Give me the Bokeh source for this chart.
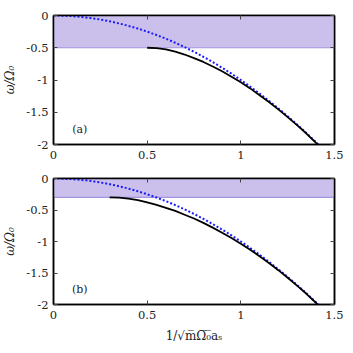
from bokeh.plotting import figure
from bokeh.layouts import column
from bokeh.models import Range1d, LinearAxis, FixedTicker
from bokeh.core.properties import value
from bokeh.embed import file_html
from bokeh.resources import INLINE

# ---- data ----
x_free = [0.0, 0.05, 0.1, 0.15, 0.2, 0.25, 0.3, 0.35, 0.4, 0.45, 0.5, 0.55, 0.6, 0.65,
          0.7, 0.75, 0.8, 0.85, 0.9, 0.95, 1.0, 1.05, 1.1, 1.15, 1.2, 1.25, 1.3, 1.35, 1.414]
y_free = [0.0, -0.0025, -0.01, -0.0225, -0.04, -0.0625, -0.09, -0.1225, -0.16, -0.2025,
          -0.25, -0.3025, -0.36, -0.4225, -0.49, -0.5625, -0.64, -0.7225, -0.81, -0.9025,
          -1.0, -1.1025, -1.21, -1.3225, -1.44, -1.5625, -1.69, -1.8225, -2.0]

x_a = [0.50, 0.55, 0.60, 0.65, 0.70, 0.75, 0.80, 0.85, 0.90, 0.95, 1.00, 1.05, 1.10,
       1.15, 1.20, 1.25, 1.30, 1.35, 1.41]
y_a = [-0.500, -0.505, -0.525, -0.560, -0.605, -0.660, -0.720, -0.790, -0.865, -0.950,
       -1.035, -1.130, -1.235, -1.340, -1.455, -1.575, -1.700, -1.830, -2.000]

x_b = [0.30, 0.35, 0.40, 0.45, 0.50, 0.55, 0.60, 0.65, 0.70, 0.75, 0.80, 0.85, 0.90,
       0.95, 1.00, 1.05, 1.10, 1.15, 1.20, 1.25, 1.30, 1.35, 1.41]
y_b = [-0.300, -0.305, -0.320, -0.345, -0.380, -0.420, -0.465, -0.515, -0.575, -0.635,
       -0.705, -0.780, -0.860, -0.945, -1.035, -1.130, -1.235, -1.340, -1.455, -1.575,
       -1.700, -1.830, -2.000]

thresholds = [-0.5, -0.3]
panel_labels = ["(a)", "(b)"]

x_ticks = [0, 0.5, 1, 1.5]
x_tick_labels = ["0", "0.5", "1", "1.5"]
y_ticks = [0, -0.5, -1, -1.5, -2]
y_tick_labels = ["0", "-0.5", "-1", "-1.5", "-2"]

FONT = "DejaVu Serif"
BAND = "#cbbfeb"
BAND_EDGE = "#a395e0"


def make_panel(xs, ys, thr, label, height, border_top, border_bottom, xlabel):
    p = figure(width=343, height=height, output_backend="svg", toolbar_location=None,
               x_range=Range1d(0, 1.5), y_range=Range1d(-2, 0),
               min_border_left=53, min_border_right=9,
               min_border_top=border_top, min_border_bottom=border_bottom)
    p.grid.visible = False
    p.outline_line_color = "black"
    p.outline_line_width = 1.5
    p.background_fill_color = "white"
    p.border_fill_color = "white"

    # shaded continuum band
    p.quad(left=[p.x_range.start], right=[p.x_range.end], bottom=[thr], top=[0],
           fill_color=BAND, fill_alpha=1.0, line_color=None)
    p.line([p.x_range.start, p.x_range.end], [thr, thr], line_color=BAND_EDGE, line_width=1.2)

    p.line(x_free, y_free, line_color="#1a1aff", line_width=2.0, line_dash="2 2")
    p.line(xs, ys, line_color="black", line_width=1.8)

    p.text(x=[0.14], y=[-1.76], text=[label], text_font=value(FONT),
           text_font_size="11px", text_align="center", text_baseline="middle",
           text_color="#222222")

    for ax in p.xaxis:
        ax.ticker = FixedTicker(ticks=x_ticks)
        ax.major_label_overrides = {t: l for t, l in zip(x_ticks, x_tick_labels)}
    for ax in p.yaxis:
        ax.ticker = FixedTicker(ticks=y_ticks)
        ax.major_label_overrides = {t: l for t, l in zip(y_ticks, y_tick_labels)}

    for ax in list(p.xaxis) + list(p.yaxis):
        ax.axis_line_color = "black"
        ax.axis_line_width = 1.5
        ax.major_tick_in = 4
        ax.major_tick_out = 0
        ax.minor_tick_line_color = None
        ax.major_tick_line_color = "#444444"
        ax.major_label_text_font = FONT
        ax.major_label_text_font_size = "11.5px"
        ax.major_label_text_color = "#222222"
        ax.major_label_standoff = 5
        ax.axis_label_text_font = FONT
        ax.axis_label_text_font_size = "12px"
        ax.axis_label_text_font_style = "normal"
        ax.axis_label_text_color = "#222222"
        ax.axis_label_standoff = 6

    p.xaxis.major_label_standoff = 6
    p.yaxis.axis_label = "ω/Ω₀"
    p.yaxis.axis_label_text_font_style = "italic"
    if xlabel:
        p.xaxis.axis_label = xlabel
        p.xaxis.axis_label_standoff = 7

    # mirrored ticks on the right and top (no labels)
    r = LinearAxis(ticker=FixedTicker(ticks=y_ticks), major_tick_in=4, major_tick_out=0,
                   minor_tick_line_color=None,
                   major_label_overrides={t: "" for t in y_ticks},
                   axis_line_color="black", axis_line_width=1.5,
                   major_tick_line_color="#444444", major_label_standoff=0)
    t = LinearAxis(ticker=FixedTicker(ticks=x_ticks), major_tick_in=4, major_tick_out=0,
                   minor_tick_line_color=None,
                   major_label_overrides={t: "" for t in x_ticks},
                   axis_line_color="black", axis_line_width=1.5,
                   major_tick_line_color="#444444", major_label_standoff=0)
    p.add_layout(r, "right")
    p.add_layout(t, "above")
    return p


top = make_panel(x_a, y_a, thresholds[0], panel_labels[0], 167, 15, 23, None)
bot = make_panel(x_b, y_b, thresholds[1], panel_labels[1], 178, 11, 38, "1/√m̅Ω̅₀̅a\u209B")

layout = column(top, bot, spacing=0)
open("out.html", "w").write(file_html(layout, INLINE))
